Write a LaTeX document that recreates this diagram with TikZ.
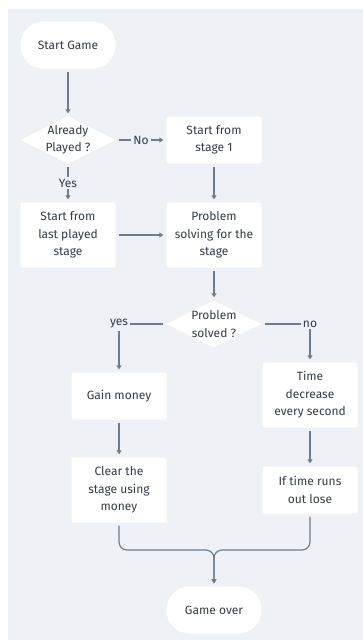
\documentclass[tikz,border=0pt]{standalone}
\usepackage{fontspec}
\setmainfont{Fira Sans}
\usepackage{tikz}
\usetikzlibrary{shapes.geometric,arrows.meta}
\definecolor{bgc}{HTML}{EEF2F6}
\definecolor{linec}{HTML}{6E7D8C}
\definecolor{txtc}{HTML}{343C46}

\begin{document}
\begin{tikzpicture}[x=1pt, y=-1pt, font=\fontsize{12}{17.5}\selectfont, text=txtc,
	box/.style = {fill=white, rounded corners=2pt, minimum width=95pt, align=center, inner sep=0pt},
	term/.style = {fill=white, rounded corners=23pt, minimum width=95pt, minimum height=47pt, inner sep=0pt},
	cond/.style = {fill=white, diamond, shape aspect=2, minimum width=95pt, minimum height=47pt, inner sep=-5pt, align=center},
	arr/.style = {draw=linec, line width=1.2pt, -{Triangle[length=4pt,width=5pt]}, shorten <=3pt, shorten >=3pt},
	lbl/.style = {fill=bgc, inner sep=2pt}]
	\useasboundingbox (0,0) rectangle (363,640);
	\fill[bgc] (8,9) rectangle (363,640);
	\node[term] (start) at (68,45){Start Game};
	\node[cond] (played) at (68,140){Already\\Played ?};
	\node[box, minimum height=47pt] (first) at (214,140){Start from\\stage 1};
	\node[box, minimum height=65pt] (last) at (68,235){Start from\\last played\\stage};
	\node[box, minimum height=65pt] (solve) at (214,235){Problem\\solving for the\\stage};
	\node[cond] (solved) at (214,324){Problem\\solved ?};
	\node[box, minimum height=47pt] (gain) at (119,396){Gain money};
	\node[box, minimum height=65pt] (clear) at (119,490){Clear the\\stage using\\money};
	\node[box, minimum height=65pt] (time) at (310,395){Time\\decrease\\every second};
	\node[box, minimum height=47pt] (lose) at (310,490){If time runs\\out lose};
	\node[term] (over) at (214,610){Game over};
	\coordinate (merge) at (214,550);
	\draw[arr] (start) -- (played);
	\draw[arr] (played) -- node[lbl]{No} (first);
	\draw[arr] (played) -- node[lbl]{Yes} (last);
	\draw[arr] (first) -- (solve);
	\draw[arr] (last) -- (solve);
	\draw[arr] (solve) -- (solved);
	\draw[arr] (solved.west) -| node[lbl]{yes} (gain.north);
	\draw[arr] (solved.east) -| node[lbl]{no} (time.north);
	\draw[arr] (gain) -- (clear);
	\draw[arr] (time) -- (lose);
	\draw[arr, rounded corners=8pt] (clear.south) |- (merge) -- (over.north);
	\draw[arr, rounded corners=8pt] (lose.south) |- (merge) -- (over.north);
\end{tikzpicture}
\end{document}
